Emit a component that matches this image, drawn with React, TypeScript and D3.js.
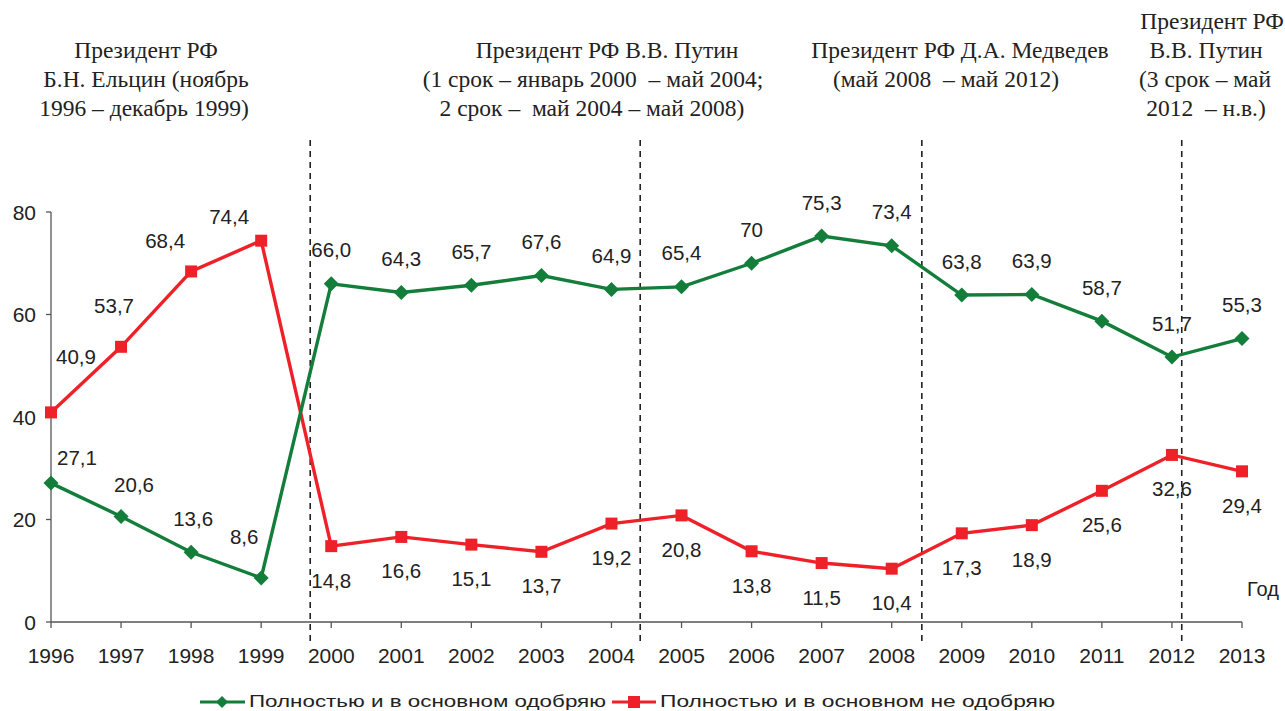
import React from "react";
import * as d3 from "d3";

const years = [1996, 1997, 1998, 1999, 2000, 2001, 2002, 2003, 2004, 2005, 2006, 2007, 2008, 2009, 2010, 2011, 2012, 2013];
const approve = [27.1, 20.6, 13.6, 8.6, 66.0, 64.3, 65.7, 67.6, 64.9, 65.4, 70, 75.3, 73.4, 63.8, 63.9, 58.7, 51.7, 55.3];
const approveLabels = ["27,1", "20,6", "13,6", "8,6", "66,0", "64,3", "65,7", "67,6", "64,9", "65,4", "70", "75,3", "73,4", "63,8", "63,9", "58,7", "51,7", "55,3"];
const disapprove = [40.9, 53.7, 68.4, 74.4, 14.8, 16.6, 15.1, 13.7, 19.2, 20.8, 13.8, 11.5, 10.4, 17.3, 18.9, 25.6, 32.6, 29.4];
const disapproveLabels = ["40,9", "53,7", "68,4", "74,4", "14,8", "16,6", "15,1", "13,7", "19,2", "20,8", "13,8", "11,5", "10,4", "17,3", "18,9", "25,6", "32,6", "29,4"];
const yTicks = [0, 20, 40, 60, 80];
const termBoundaries = [1999.7, 2004.41, 2008.43, 2012.14];
const seriesNames = ["Полностью и в основном одобряю", "Полностью и в основном не одобряю"];
const annotations: { lines: string[]; cx: number[]; top: number }[] = [
  { lines: ["Президент РФ", "Б.Н. Ельцин (ноябрь", "1996 – декабрь 1999)"], cx: [146, 146, 144], top: 1 },
  { lines: ["Президент РФ В.В. Путин", "(1 срок – январь 2000  – май 2004;", "2 срок –  май 2004 – май 2008)"], cx: [607, 593, 592], top: 1 },
  { lines: ["Президент РФ Д.А. Медведев", "(май 2008  – май 2012)"], cx: [960, 946], top: 1 },
  { lines: ["Президент РФ", "В.В. Путин", "(3 срок – май", "2012  – н.в.)"], cx: [1212, 1206, 1205, 1206], top: 0 },
];

// label offsets (px) for the first four points; others use default
const approveOffsets: [number, number][] = [[26, -26], [13, -32], [2, -34], [-17, -41]];
const disapproveOffsets: [number, number][] = [[25, -56], [-7, -41], [-26, -31], [-32, -24]];

const GREEN = "#137d3a";
const RED = "#ee2128";
const AXIS = "#555";
const SANS = "'Liberation Sans', Arial, sans-serif";
const SERIF = "'Liberation Serif', 'Times New Roman', serif";

export default function App() {
  const W = 1285, H = 711;
  const x = d3.scaleLinear().domain([1996, 2013]).range([51, 1242]);
  const y = d3.scaleLinear().domain([0, 80]).range([622, 212]);
  const line = d3.line<number>().x((_, i) => x(years[i])).y((v) => y(v));

  const diamond = (cx: number, cy: number, r: number) =>
    `M${cx},${cy - r}L${cx + r},${cy}L${cx},${cy + r}L${cx - r},${cy}Z`;

  return (
    <svg width={W} height={H} style={{ position: "absolute", left: 0, top: 0, background: "#fff" }}>
      {annotations.map((a, ai) =>
        a.lines.map((l, li) => (
          <text key={`a${ai}-${li}`} x={a.cx[li]} y={(a.top ? 58 : 29) + li * 29} textAnchor="middle"
            fontFamily={SERIF} fontSize={23.5} fill="#222" style={{ whiteSpace: "pre" }}>{l}</text>
        ))
      )}
      {termBoundaries.map((t, i) => (
        <line key={`tb${i}`} x1={x(t)} x2={x(t)} y1={140} y2={642} stroke="#222" strokeWidth={1.6} strokeDasharray="6,5" />
      ))}
      <line x1={x(1996)} x2={x(1996)} y1={y(80)} y2={y(0)} stroke={AXIS} strokeWidth={1.3} />
      <line x1={x(1996)} x2={x(2013)} y1={y(0)} y2={y(0)} stroke={AXIS} strokeWidth={1.3} />
      {yTicks.map((t) => (
        <g key={`yt${t}`}>
          <line x1={x(1996) - 5} x2={x(1996)} y1={y(t)} y2={y(t)} stroke={AXIS} strokeWidth={1.3} />
          <text x={36} y={y(t) + 7.5} textAnchor="end" fontFamily={SANS} fontSize={21} fill="#222">{t}</text>
        </g>
      ))}
      {years.map((yr) => (
        <g key={`xt${yr}`}>
          <line x1={x(yr)} x2={x(yr)} y1={y(0)} y2={y(0) + 6} stroke={AXIS} strokeWidth={1.3} />
          <text x={x(yr)} y={663} textAnchor="middle" fontFamily={SANS} fontSize={21} fill="#222">{yr}</text>
        </g>
      ))}
      <text x={1263} y={596} textAnchor="middle" fontFamily={SANS} fontSize={20} fill="#222">Год</text>
      <path d={line(disapprove) || ""} fill="none" stroke={RED} strokeWidth={3.4} />
      <path d={line(approve) || ""} fill="none" stroke={GREEN} strokeWidth={3.4} />
      {disapprove.map((v, i) => (
        <rect key={`rm${i}`} x={x(years[i]) - 6} y={y(v) - 6} width={12} height={12} fill={RED} />
      ))}
      {approve.map((v, i) => (
        <path key={`gm${i}`} d={diamond(x(years[i]), y(v), 7.5)} fill={GREEN} />
      ))}
      {approve.map((v, i) => {
        const [dx, dy] = approveOffsets[i] || [0, -34];
        return (
          <text key={`gl${i}`} x={x(years[i]) + dx} y={y(v) + dy + 7.5} textAnchor="middle" fontFamily={SANS} fontSize={20.5} fill="#222">{approveLabels[i]}</text>
        );
      })}
      {disapprove.map((v, i) => {
        const [dx, dy] = disapproveOffsets[i] || [0, 34];
        return (
          <text key={`rl${i}`} x={x(years[i]) + dx} y={y(v) + dy + 7.5} textAnchor="middle" fontFamily={SANS} fontSize={20.5} fill="#222">{disapproveLabels[i]}</text>
        );
      })}
      <g>
        <line x1={200} x2={245} y1={702} y2={702} stroke={GREEN} strokeWidth={3.2} />
        <path d={diamond(222, 702, 6)} fill={GREEN} />
        <text x={249} y={707} fontFamily={SANS} fontSize={17} fill="#222" textLength={357} lengthAdjust="spacingAndGlyphs">{seriesNames[0]}</text>
        <line x1={612} x2={656} y1={702} y2={702} stroke={RED} strokeWidth={3.2} />
        <rect x={628} y={696} width={12} height={12} fill={RED} />
        <text x={660} y={707} fontFamily={SANS} fontSize={17} fill="#222" textLength={395} lengthAdjust="spacingAndGlyphs">{seriesNames[1]}</text>
      </g>
    </svg>
  );
}
